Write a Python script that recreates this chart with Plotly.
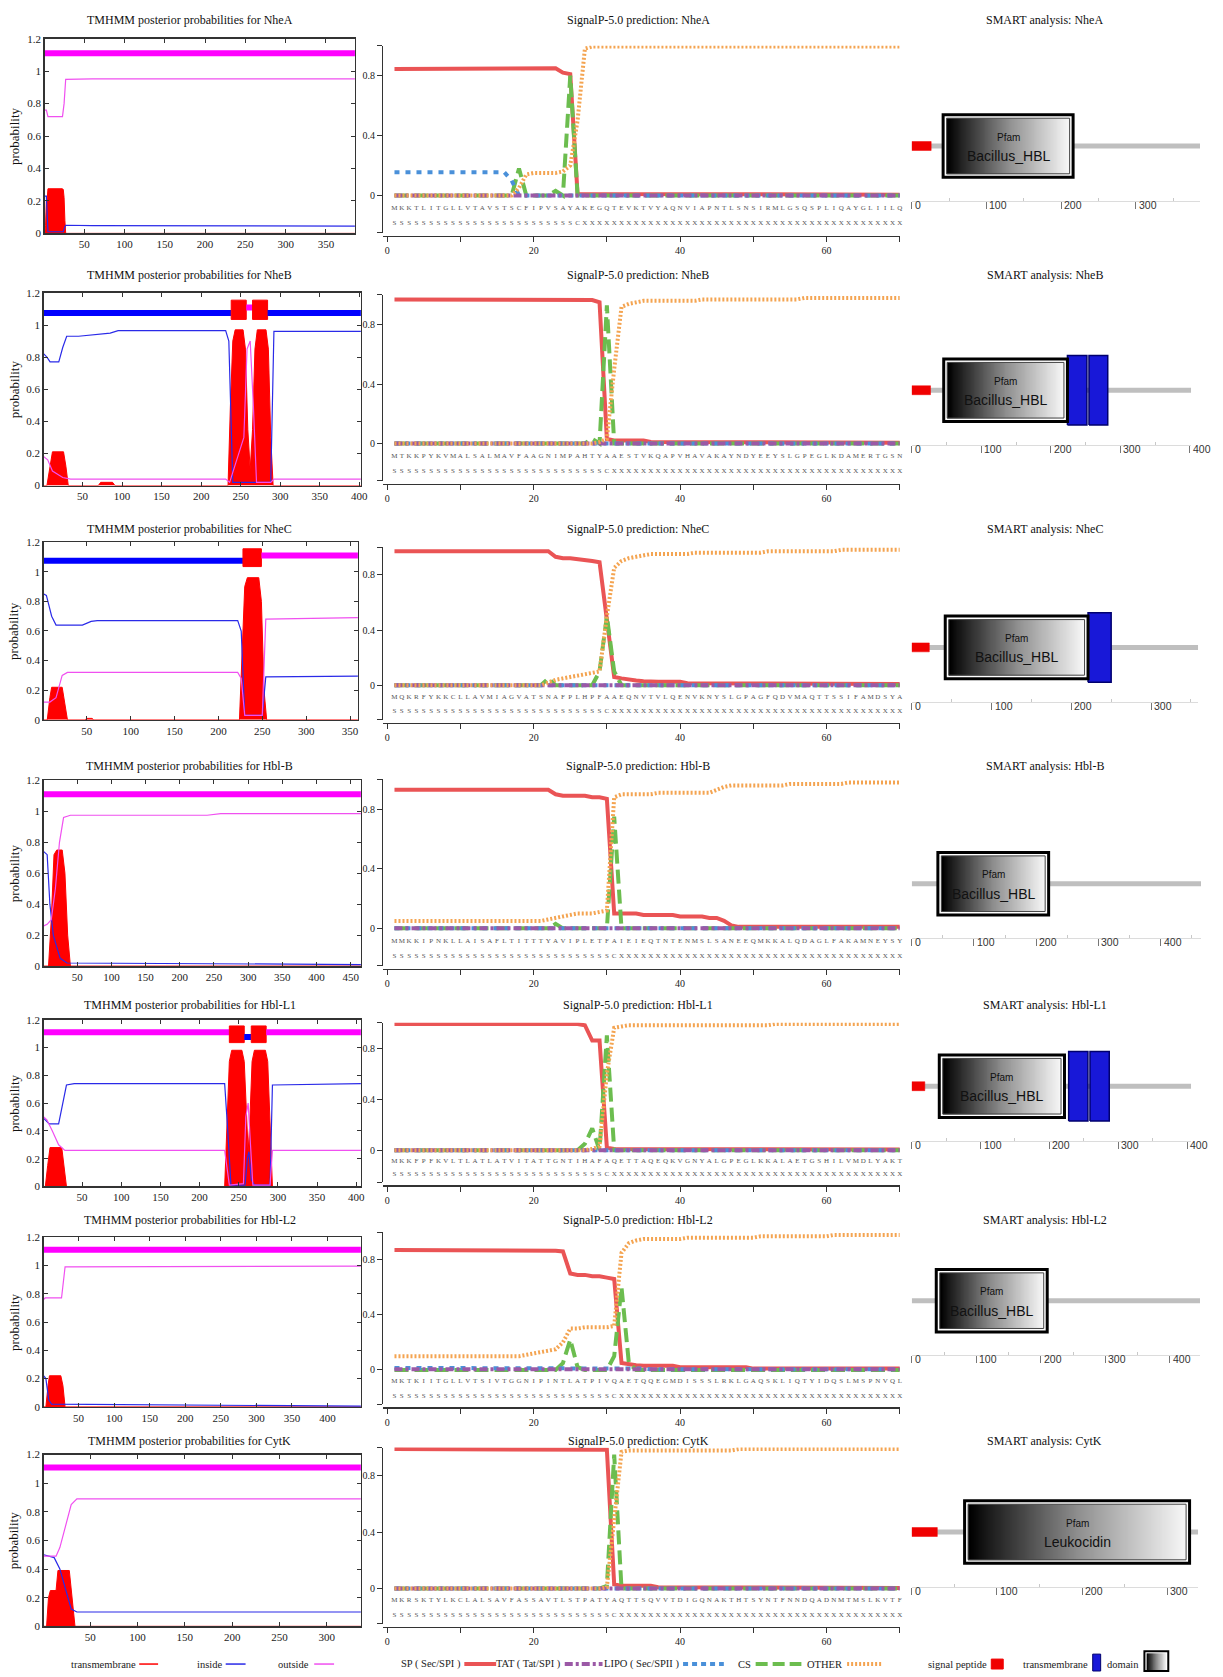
import numpy as np
import plotly.graph_objects as go

W, H = 1223, 1677
SERIF = "Liberation Serif"
SANS = "Liberation Sans"

# ======================= DATA =======================
proteins = ["NheA", "NheB", "NheC", "Hbl-B", "Hbl-L1", "Hbl-L2", "CytK"]
protein_length = [386, 402, 359, 465, 406, 447, 336]

tm_yticks = [0, 0.2, 0.4, 0.6, 0.8, 1.0, 1.2]
tm_yticktext = ["0", "0.2", "0.4", "0.6", "0.8", "1", "1.2"]
sp_xticks = [0, 10, 20, 30, 40, 50, 60, 70]
sp_xticktext = ["0", "", "20", "", "40", "", "60", ""]
sp_yticks = [-0.25, 0, 0.4, 0.8, 1.0]
sp_yticktext = ["", "0", "0.4", "0.8", ""]

# ---- TMHMM posterior probabilities (breakpoints) ----
nhea_tm_x = [1, 2, 3, 4, 5, 23, 24, 25, 26, 27, 386]
nhea_tm_y = [0, 0.05, 0.2, 0.21, 0.275, 0.275, 0.27, 0.22, 0.08, 0, 0]
nhea_in_x = [1, 3, 5, 24, 26, 27, 60, 386]
nhea_in_y = [0.23, 0.23, 0.01, 0.01, 0.04, 0.05, 0.048, 0.045]
nhea_out_x = [1, 3, 5, 23, 25, 26, 27, 60, 386]
nhea_out_y = [0.76, 0.76, 0.72, 0.72, 0.8, 0.93, 0.95, 0.953, 0.953]
nhea_topo = [(1, 386, "o")]

nheb_tm_x = [1, 5, 9, 12, 26, 29, 32, 70, 73, 88, 91, 234, 237, 240, 243, 253, 256, 259, 262, 265, 268, 271, 282, 285, 288, 291, 402]
nheb_tm_y = [0, 0, 0.12, 0.21, 0.21, 0.12, 0, 0, 0.02, 0.02, 0, 0, 0.5, 0.9, 0.97, 0.97, 0.85, 0.35, 0.1, 0.35, 0.85, 0.97, 0.97, 0.85, 0.3, 0, 0]
nheb_in_x = [1, 5, 9, 20, 25, 30, 45, 85, 95, 231, 235, 240, 288, 292, 402]
nheb_in_y = [0.82, 0.8, 0.77, 0.77, 0.86, 0.93, 0.93, 0.95, 0.965, 0.965, 0.9, 0.02, 0.02, 0.96, 0.96]
nheb_out_x = [1, 6, 12, 25, 35, 231, 236, 254, 258, 262, 266, 270, 288, 292, 402]
nheb_out_y = [0.18, 0.16, 0.09, 0.05, 0.04, 0.04, 0.02, 0.3, 0.85, 0.9, 0.5, 0.02, 0.02, 0.04, 0.04]
nheb_topo = [(1, 238, "i"), (238, 257, "TM"), (257, 265, "o"), (265, 284, "TM"), (284, 402, "i")]

nhec_tm_x = [1, 5, 8, 10, 22, 25, 28, 48, 50, 56, 58, 224, 227, 230, 233, 246, 249, 252, 255, 359]
nhec_tm_y = [0, 0, 0.15, 0.22, 0.22, 0.12, 0, 0, 0.01, 0.01, 0, 0, 0.5, 0.9, 0.96, 0.96, 0.8, 0.2, 0, 0]
nhec_in_x = [1, 4, 10, 15, 45, 55, 62, 222, 226, 230, 250, 254, 359]
nhec_in_y = [0.85, 0.84, 0.7, 0.64, 0.64, 0.665, 0.67, 0.67, 0.6, 0.03, 0.03, 0.29, 0.295]
nhec_out_x = [1, 8, 15, 22, 28, 222, 226, 230, 250, 254, 359]
nhec_out_y = [0.12, 0.12, 0.15, 0.3, 0.32, 0.32, 0.28, 0.03, 0.03, 0.68, 0.69]
nhec_topo = [(1, 228, "i"), (228, 249, "TM"), (249, 359, "o")]

hblb_tm_x = [1, 8, 12, 16, 20, 28, 32, 36, 40, 465]
hblb_tm_y = [0, 0, 0.3, 0.72, 0.75, 0.75, 0.6, 0.2, 0, 0]
hblb_in_x = [1, 6, 10, 15, 25, 35, 465]
hblb_in_y = [0.74, 0.72, 0.4, 0.2, 0.05, 0.02, 0.01]
hblb_out_x = [1, 6, 12, 18, 24, 30, 40, 240, 260, 465]
hblb_out_y = [0.26, 0.27, 0.3, 0.5, 0.8, 0.96, 0.975, 0.975, 0.985, 0.985]
hblb_topo = [(1, 465, "o")]

hbll1_tm_x = [1, 3, 6, 9, 24, 27, 30, 232, 235, 238, 241, 254, 257, 260, 262, 264, 267, 270, 284, 287, 290, 293, 406]
hbll1_tm_y = [0, 0, 0.15, 0.28, 0.28, 0.15, 0, 0, 0.5, 0.9, 0.98, 0.98, 0.9, 0.45, 0.25, 0.45, 0.9, 0.98, 0.98, 0.9, 0.4, 0, 0]
hbll1_in_x = [1, 4, 8, 20, 25, 30, 40, 232, 236, 240, 258, 261, 263, 266, 270, 290, 293, 406]
hbll1_in_y = [0.49, 0.47, 0.45, 0.45, 0.6, 0.73, 0.74, 0.74, 0.4, 0.01, 0.01, 0.2, 0.25, 0.05, 0.01, 0.01, 0.73, 0.74]
hbll1_out_x = [1, 5, 12, 20, 28, 232, 238, 256, 259, 262, 265, 268, 290, 293, 406]
hbll1_out_y = [0.5, 0.48, 0.4, 0.3, 0.26, 0.26, 0.01, 0.02, 0.5, 0.6, 0.3, 0.01, 0.01, 0.26, 0.26]
hbll1_topo = [(1, 238, "o"), (238, 257, "TM"), (257, 266, "i"), (266, 285, "TM"), (285, 406, "o")]

hbll2_tm_x = [1, 4, 7, 9, 25, 28, 31, 447]
hbll2_tm_y = [0, 0, 0.15, 0.22, 0.22, 0.15, 0, 0]
hbll2_in_x = [1, 4, 8, 12, 447]
hbll2_in_y = [0.22, 0.2, 0.05, 0.02, 0.005]
hbll2_out_x = [1, 3, 26, 29, 31, 447]
hbll2_out_y = [0.76, 0.77, 0.77, 0.9, 0.99, 0.995]
hbll2_topo = [(1, 447, "o")]

cytk_tm_x = [1, 4, 6, 8, 14, 16, 28, 31, 34, 336]
cytk_tm_y = [0, 0, 0.2, 0.25, 0.25, 0.39, 0.39, 0.2, 0, 0]
cytk_in_x = [1, 12, 18, 24, 30, 36, 336]
cytk_in_y = [0.5, 0.48, 0.4, 0.25, 0.12, 0.1, 0.1]
cytk_out_x = [1, 14, 18, 24, 30, 36, 336]
cytk_out_y = [0.49, 0.49, 0.55, 0.7, 0.85, 0.89, 0.89]
cytk_topo = [(1, 336, "o")]

# ---- SignalP-5.0 per-residue probabilities (positions 1..70) ----
nhea_seq = "MKKTLITGLLVTAVSTSCFIPVSAYAKEGQTEVKTVYAQNVIAPNTLSNSIRMLGSQSPLIQAYGLIILQ"
nhea_lab = "S" * 25 + "C" + "X" * 44
nhea_sp = [0.845] * 21 + [0.85, 0.85, 0.82, 0.81, 0.01] + [0.01] * 10 + [0.005] * 34
nhea_tat = [0.0] * 70
nhea_lipo = [0.155] * 16 + [0.1, 0.0] + [0.0] * 52
nhea_cs = [0.0] * 16 + [0.0, 0.18, 0.0] + [0.0] * 3 + [0.03, 0.0, 0.8, 0.0] + [0.0] * 44
nhea_other = [0.0] * 17 + [0.05, 0.14, 0.15, 0.15, 0.15, 0.15, 0.16, 0.2, 0.5, 0.98] + [0.995] * 43

nheb_seq = "MTKKPYKVMALSALMAVFAAGNIMPAHTYAAESTVKQAPVHAVAKAYNDYEEYSLGPEGLKDAMERTGSN"
nheb_lab = "S" * 29 + "C" + "X" * 40
nheb_sp = [0.97] * 27 + [0.965, 0.95, 0.03] + [0.02] * 5 + [0.01] * 10 + [0.005] * 25
nheb_tat = [0.0] * 70
nheb_lipo = [0.0] * 70
nheb_cs = [0.0] * 27 + [0.03, 0.0, 0.93, 0.0] + [0.0] * 39
nheb_other = [0.0] * 28 + [0.01, 0.03, 0.5, 0.92, 0.94, 0.95] + [0.96] * 8 + [0.97] * 14 + [0.98] * 14

nhec_seq = "MQKRFYKKCLLAVMIAGVATSNAFPLHPFAAEQNVTVLQENVKNYSLGPAGFQDVMAQTTSSIFAMDSYA"
nhec_lab = "S" * 29 + "C" + "X" * 40
nhec_sp = [0.97] * 22 + [0.93, 0.92, 0.92, 0.915, 0.91, 0.9, 0.89, 0.45, 0.06, 0.05, 0.04, 0.035, 0.03] + [0.025] * 5 + [0.015] * 10 + [0.01] * 20
nhec_tat = [0.0] * 70
nhec_lipo = [0.0] * 70
nhec_cs = [0.0] * 21 + [0.05, 0.0] + [0.0] * 5 + [0.1, 0.5, 0.1, 0.0] + [0.0] * 38
nhec_other = [0.0] * 21 + [0.02, 0.04, 0.05, 0.06, 0.07, 0.08, 0.09, 0.1, 0.5, 0.85, 0.9, 0.92, 0.93, 0.94] + [0.95] * 6 + [0.96] * 10 + [0.97] * 10 + [0.98] * 9

hblb_seq = "MMKKIPNKLLAISAFLTITTTYAVIPLETFAIEIEQTNTENMSLSANEEQMKKALQDAGLFAKAMNEYSY"
hblb_lab = "S" * 30 + "C" + "X" * 39
hblb_sp = [0.93] * 22 + [0.9, 0.89, 0.89, 0.89, 0.89, 0.88, 0.88, 0.87, 0.1] + [0.1] * 3 + [0.09] * 5 + [0.08] * 4 + [0.07] * 2 + [0.05, 0.02] + [0.01] * 23
hblb_tat = [0.0] * 70
hblb_lipo = [0.0] * 70
hblb_cs = [0.0] * 22 + [0.03, 0.0] + [0.0] * 6 + [0.75, 0.0] + [0.0] * 38
hblb_other = [0.05] * 20 + [0.05, 0.06, 0.07, 0.08, 0.09, 0.1, 0.1, 0.1, 0.11, 0.12, 0.88] + [0.9] * 5 + [0.91] * 8 + [0.93, 0.95] + [0.96] * 8 + [0.97] * 8 + [0.98] * 8

hbll1_seq = "MKKFPFKVLTLATLATVITATTGNTIHAFAQETTAQEQKVGNYALGPEGLKKALAETGSHILVMDLYAKT"
hbll1_lab = "S" * 29 + "C" + "X" * 40
hbll1_sp = [0.99] * 26 + [0.98, 0.86, 0.86, 0.02] + [0.01] * 10 + [0.005] * 30
hbll1_tat = [0.0] * 70
hbll1_lipo = [0.0] * 70
hbll1_cs = [0.0] * 26 + [0.05, 0.17, 0.0, 0.9, 0.0] + [0.0] * 39
hbll1_other = [0.0] * 27 + [0.01, 0.03, 0.6, 0.96, 0.97] + [0.98] * 20 + [0.99] * 18

hbll2_seq = "MKTKIITGLLVTSIVTGGNIPINTLATPIVQAETQQEGMDISSSLRKLGAQSKLIQTYIDQSLMSPNVQL"
hbll2_lab = "S" * 30 + "C" + "X" * 39
hbll2_sp = [0.87] * 22 + [0.865, 0.86, 0.7, 0.69, 0.69, 0.68, 0.68, 0.67, 0.66, 0.05, 0.04, 0.035] + [0.03] * 5 + [0.02] * 10 + [0.01] * 21
hbll2_tat = [0.005] * 70
hbll2_lipo = [0.015] * 30 + [0.01] * 5 + [0.005] * 35
hbll2_cs = [0.0] * 23 + [0.05, 0.22, 0.02] + [0.0] * 4 + [0.1, 0.6, 0.05] + [0.0] * 37
hbll2_other = [0.1] * 18 + [0.11, 0.12, 0.13, 0.14, 0.15, 0.2, 0.3, 0.3, 0.31, 0.31, 0.31, 0.31, 0.32, 0.85, 0.92, 0.94] + [0.95] * 6 + [0.96] * 10 + [0.97] * 10 + [0.98] * 10

cytk_seq = "MKRSKTYLKCLALSAVFASSAVTLSTPATYAQTTSQVVTDIGQNAKTHTSYNTFNNDQADNMTMSLKVTF"
cytk_lab = "S" * 30 + "C" + "X" * 39
cytk_sp = [0.99] * 29 + [0.985, 0.03] + [0.02] * 5 + [0.01] * 10 + [0.005] * 24
cytk_tat = [0.0] * 70
cytk_lipo = [0.0] * 70
cytk_cs = [0.0] * 29 + [0.02, 0.95, 0.0] + [0.0] * 38
cytk_other = [0.0] * 29 + [0.01, 0.5, 0.97] + [0.98] * 15 + [0.99] * 23

# ---- SMART architecture (residue coordinates) ----
smart_signal = [(0, 26), (0, 27), (0, 22), None, (0, 19), None, (0, 30)]
smart_domain = [(42, 216), (46, 224), (42, 221), (42, 220), (40, 222), (38, 210), (62, 326)]
smart_domain_name = ["Bacillus_HBL"] * 6 + ["Leukocidin"]
smart_tm = [[], [(224, 252), (255, 282)], [(221, 250)], [], [(228, 256), (259, 287)], [], []]

tmhmm_sets = [
    (nhea_tm_x, nhea_tm_y, nhea_in_x, nhea_in_y, nhea_out_x, nhea_out_y, nhea_topo),
    (nheb_tm_x, nheb_tm_y, nheb_in_x, nheb_in_y, nheb_out_x, nheb_out_y, nheb_topo),
    (nhec_tm_x, nhec_tm_y, nhec_in_x, nhec_in_y, nhec_out_x, nhec_out_y, nhec_topo),
    (hblb_tm_x, hblb_tm_y, hblb_in_x, hblb_in_y, hblb_out_x, hblb_out_y, hblb_topo),
    (hbll1_tm_x, hbll1_tm_y, hbll1_in_x, hbll1_in_y, hbll1_out_x, hbll1_out_y, hbll1_topo),
    (hbll2_tm_x, hbll2_tm_y, hbll2_in_x, hbll2_in_y, hbll2_out_x, hbll2_out_y, hbll2_topo),
    (cytk_tm_x, cytk_tm_y, cytk_in_x, cytk_in_y, cytk_out_x, cytk_out_y, cytk_topo),
]
signalp_sets = [
    (nhea_seq, nhea_lab, nhea_sp, nhea_tat, nhea_lipo, nhea_cs, nhea_other),
    (nheb_seq, nheb_lab, nheb_sp, nheb_tat, nheb_lipo, nheb_cs, nheb_other),
    (nhec_seq, nhec_lab, nhec_sp, nhec_tat, nhec_lipo, nhec_cs, nhec_other),
    (hblb_seq, hblb_lab, hblb_sp, hblb_tat, hblb_lipo, hblb_cs, hblb_other),
    (hbll1_seq, hbll1_lab, hbll1_sp, hbll1_tat, hbll1_lipo, hbll1_cs, hbll1_other),
    (hbll2_seq, hbll2_lab, hbll2_sp, hbll2_tat, hbll2_lipo, hbll2_cs, hbll2_other),
    (cytk_seq, cytk_lab, cytk_sp, cytk_tat, cytk_lipo, cytk_cs, cytk_other),
]

# ======================= LAYOUT GEOMETRY (page pixels) =======================
TM_FRAME = [(33, 229, 45, 357), (289, 483, 44, 363), (540, 719, 44, 360), (780, 967, 44, 363),
            (1021, 1189, 44, 363), (1240, 1411, 44, 363), (1459, 1632, 44, 363)]
# (pixel of y=1.0, pixel of y=-0.25, pixel of x-axis line)
SP_GEOM = [(40, 228.5, 231.5), (291, 478, 481), (545, 719, 722), (779, 966.5, 969.5),
           (1024, 1184.5, 1187.5), (1235, 1408.5, 1411.5), (1452, 1629.5, 1632.5)]
SP_X0, SP_X1 = 385.7, 905
SMART_Y = [141, 387, 646, 884, 1088, 1304, 1537]
SMART_X1 = [1207, 1198, 1205, 1208, 1198, 1207, 1205]
TITLE_Y = [14, 271, 527, 765, 1006, 1223, 1445]
SMART_X0 = 917

C_RED = "#ff0000"
C_IN = "#2a2ae8"
C_OUT = "#f050f0"
SP_COL = "#ea5455"
TAT_COL = "#9b59a6"
LIPO_COL = "#4a90d9"
CS_COL = "#6cbd4f"
OTHER_COL = "#f4a451"
GRAD = [[0, "#000000"], [0.06, "#141414"], [0.5, "#8f8f8f"], [1, "#f7f7f7"]]


def fx(v):
    return min(1.0, max(0.0, v / W))


def fy(v):
    return min(1.0, max(0.0, 1 - v / H))


def keys(i):
    s = "" if i == 1 else str(i)
    return "xaxis" + s, "yaxis" + s, "x" + s, "y" + s


fig = go.Figure()
lay = {}
ann = []
shp = []

for r in range(7):
    name = proteins[r]
    L = protein_length[r]

    # ---------------- TMHMM ----------------
    xk, yk, xr, yr = keys(3 * r + 1)
    top, bot, left, right = TM_FRAME[r]
    tfont = dict(family=SERIF, size=11, color="#222")
    lay[xk] = dict(domain=[fx(left), fx(right)], range=[1, L], anchor=yr,
                   tickvals=list(range(50, L + 1, 50)), ticks="inside", ticklen=4,
                   tickcolor="#333", mirror="ticks", showline=True, linecolor="#333",
                   linewidth=1.5, showgrid=False, zeroline=False, tickfont=tfont)
    lay[yk] = dict(domain=[fy(bot), fy(top)], range=[0, 1.2], anchor=xr,
                   tickvals=tm_yticks, ticktext=tm_yticktext, ticks="inside", ticklen=4,
                   tickcolor="#333", mirror="ticks", showline=True, linecolor="#333",
                   linewidth=1.5, showgrid=False, zeroline=False, tickfont=tfont)
    tmx, tmy, inx, iny, outx, outy, topo = tmhmm_sets[r]
    for (s, e, kind) in topo:
        if kind == "TM":
            fig.add_trace(go.Scatter(x=[s, e, e, s, s], y=[1.035, 1.035, 1.155, 1.155, 1.035],
                                     fill="toself", fillcolor=C_RED, mode="lines",
                                     line=dict(color=C_RED, width=1), xaxis=xr, yaxis=yr,
                                     showlegend=False, hoverinfo="skip"))
        else:
            yv = 1.11 if kind == "o" else 1.075
            col = "#ff00ff" if kind == "o" else "#0000ff"
            fig.add_trace(go.Scatter(x=[s, e], y=[yv, yv], mode="lines",
                                     line=dict(color=col, width=6), xaxis=xr, yaxis=yr,
                                     showlegend=False, hoverinfo="skip"))
    fig.add_trace(go.Scatter(x=tmx, y=tmy, mode="lines", fill="tozeroy", fillcolor=C_RED,
                             line=dict(color=C_RED, width=1), xaxis=xr, yaxis=yr,
                             showlegend=False, hoverinfo="skip"))
    fig.add_trace(go.Scatter(x=inx, y=iny, mode="lines", line=dict(color=C_IN, width=1.2),
                             xaxis=xr, yaxis=yr, showlegend=False, hoverinfo="skip"))
    fig.add_trace(go.Scatter(x=outx, y=outy, mode="lines", line=dict(color=C_OUT, width=1.2),
                             xaxis=xr, yaxis=yr, showlegend=False, hoverinfo="skip"))
    ann.append(dict(x=fx(191), y=fy(TITLE_Y[r]), xref="paper", yref="paper",
                    text="TMHMM posterior probabilities for " + name, showarrow=False,
                    xanchor="center", yanchor="middle", font=dict(family=SERIF, size=12, color="#111")))
    ann.append(dict(x=fx(14), y=fy((top + bot) / 2), xref="paper", yref="paper",
                    text="probability", textangle=-90, showarrow=False,
                    xanchor="center", yanchor="middle", font=dict(family=SERIF, size=13, color="#111")))

    # ---------------- SignalP ----------------
    xk, yk, xr, yr = keys(3 * r + 2)
    t10, b02, xline = SP_GEOM[r]
    sfont = dict(family=SERIF, size=10, color="#222")
    lay[xk] = dict(domain=[fx(SP_X0), fx(SP_X1)], range=[-0.5, 70], anchor="free",
                   position=fy(xline), tickvals=sp_xticks, ticktext=sp_xticktext,
                   ticks="outside", ticklen=5, tickcolor="#333", showline=True,
                   linecolor="#333", linewidth=1.5, showgrid=False, zeroline=False, tickfont=sfont)
    lay[yk] = dict(domain=[fy(b02), fy(t10)], range=[-0.25, 1.0], anchor=xr,
                   tickvals=sp_yticks, ticktext=sp_yticktext, ticks="outside", ticklen=5,
                   tickcolor="#333", showline=True, linecolor="#333", linewidth=1.5,
                   showgrid=False, zeroline=False, tickfont=sfont)
    seq, lab, sp, tat, lipo, cs, other = signalp_sets[r]
    pos = list(range(1, 71))
    fig.add_trace(go.Scatter(x=pos, y=sp, mode="lines", line=dict(color=SP_COL, width=4),
                             xaxis=xr, yaxis=yr, showlegend=False, hoverinfo="skip"))
    fig.add_trace(go.Scatter(x=pos, y=cs, mode="lines",
                             line=dict(color=CS_COL, width=4, dash="14px,6px"),
                             xaxis=xr, yaxis=yr, showlegend=False, hoverinfo="skip"))
    fig.add_trace(go.Scatter(x=pos, y=lipo, mode="lines",
                             line=dict(color=LIPO_COL, width=4, dash="5px,6px"),
                             xaxis=xr, yaxis=yr, showlegend=False, hoverinfo="skip"))
    fig.add_trace(go.Scatter(x=pos, y=tat, mode="lines",
                             line=dict(color=TAT_COL, width=4, dash="8px,3px,3px,3px"),
                             xaxis=xr, yaxis=yr, showlegend=False, hoverinfo="skip"))
    fig.add_trace(go.Scatter(x=pos, y=other, mode="lines",
                             line=dict(color=OTHER_COL, width=4, dash="2px,2px"),
                             xaxis=xr, yaxis=yr, showlegend=False, hoverinfo="skip"))
    fig.add_trace(go.Scatter(x=pos, y=[-0.084] * 70, mode="text", text=list(seq),
                             textfont=dict(family=SERIF, size=7, color="#555"), cliponaxis=False,
                             xaxis=xr, yaxis=yr, showlegend=False, hoverinfo="skip"))
    fig.add_trace(go.Scatter(x=pos, y=[-0.188] * 70, mode="text", text=list(lab),
                             textfont=dict(family=SERIF, size=7, color="#555"), cliponaxis=False,
                             xaxis=xr, yaxis=yr, showlegend=False, hoverinfo="skip"))
    ann.append(dict(x=fx(642), y=fy(TITLE_Y[r]), xref="paper", yref="paper",
                    text="SignalP-5.0 prediction: " + name, showarrow=False,
                    xanchor="center", yanchor="middle", font=dict(family=SERIF, size=12, color="#111")))

    # ---------------- SMART ----------------
    xk, yk, xr, yr = keys(3 * r + 3)
    g = SMART_Y[r]
    x1 = SMART_X1[r]
    lay[xk] = dict(domain=[fx(SMART_X0), fx(x1)], range=[0, L], anchor=yr,
                   tickvals=list(range(0, L + 1, 100)), ticks="outside", ticklen=7,
                   tickcolor="#777", showticklabels=False, showline=True, linecolor="#dcdcdc",
                   linewidth=1, showgrid=False, zeroline=False,
                   minor=dict(tickvals=list(range(50, L + 1, 100)), ticks="inside", ticklen=3,
                              tickcolor="#c8c8c8"))
    lay[yk] = dict(domain=[fy(g + 55), fy(g - 62)], range=[-55, 62], anchor=xr, visible=False)
    k = (x1 - SMART_X0) / L
    ds, de = smart_domain[r]
    for (a, b) in [(0, ds), (de, L)]:
        fig.add_trace(go.Scatter(x=[a, b], y=[0, 0], mode="lines", line=dict(color="#bfbfbf", width=5),
                                 xaxis=xr, yaxis=yr, showlegend=False, hoverinfo="skip"))
    if smart_signal[r] is not None:
        s, e = smart_signal[r]
        fig.add_trace(go.Scatter(x=[s, e, e, s, s], y=[-4.5, -4.5, 4.5, 4.5, -4.5], fill="toself",
                                 fillcolor="#f00000", mode="lines", line=dict(color="#f00000", width=0.5),
                                 xaxis=xr, yaxis=yr, showlegend=False, hoverinfo="skip"))
    d_in = 3.5 / k
    ncol = 64
    edges = np.linspace(ds + d_in, de - d_in, ncol + 1)
    fig.add_trace(go.Heatmap(x=edges, y=[-28, 28], z=[list(np.linspace(0, 1, ncol))],
                             colorscale=GRAD, showscale=False, zsmooth="best", hoverinfo="skip",
                             xaxis=xr, yaxis=yr))
    shp.append(dict(type="rect", xref=xr, yref=yr, x0=ds, x1=de, y0=-31.5, y1=31.5,
                    line=dict(color="#000000", width=3), fillcolor="rgba(0,0,0,0)"))
    shp.append(dict(type="rect", xref=xr, yref=yr, x0=ds + d_in, x1=de - d_in, y0=-28, y1=28,
                    line=dict(color="#444444", width=1), fillcolor="rgba(0,0,0,0)"))
    for (s, e) in smart_tm[r]:
        fig.add_trace(go.Scatter(x=[s, e, e, s, s], y=[-35, -35, 35, 35, -35], fill="toself",
                                 fillcolor="#1818d8", mode="lines", line=dict(color="#00006e", width=1.5),
                                 xaxis=xr, yaxis=yr, showlegend=False, hoverinfo="skip"))
    ann.append(dict(x=(ds + de) / 2, y=9, xref=xr, yref=yr, text="Pfam", showarrow=False,
                    xanchor="center", yanchor="middle", font=dict(family=SANS, size=10, color="#111")))
    ann.append(dict(x=(ds + de) / 2, y=-10, xref=xr, yref=yr, text=smart_domain_name[r], showarrow=False,
                    xanchor="center", yanchor="middle", font=dict(family=SANS, size=14, color="#111")))
    for t in range(0, L + 1, 100):
        ann.append(dict(x=t, y=fy(g + 59), xref=xr, yref="paper", text=str(t), showarrow=False,
                        xanchor="left", yanchor="middle", xshift=1,
                        font=dict(family=SANS, size=10.5, color="#333")))
    ann.append(dict(x=fx(1051), y=fy(TITLE_Y[r]), xref="paper", yref="paper",
                    text="SMART analysis: " + name, showarrow=False,
                    xanchor="center", yanchor="middle", font=dict(family=SERIF, size=12, color="#111")))

# ======================= LEGEND (bottom strip) =======================
LY = 1670
lfont = dict(family=SERIF, size=10.5, color="#222")
legend_items = [
    ("transmembrane", 139, dict(type="line", x0=140, x1=159, color=C_RED, width=1.5, dash="solid")),
    ("inside", 225, dict(type="line", x0=227, x1=247, color=C_IN, width=1.5, dash="solid")),
    ("outside", 313, dict(type="line", x0=316, x1=336, color=C_OUT, width=1.5, dash="solid")),
    ("SP ( Sec/SPI )", 466, dict(type="line", x0=467, x1=499, color=SP_COL, width=4, dash="solid")),
    ("TAT ( Tat/SPI )", 566, dict(type="line", x0=568, x1=606, color=TAT_COL, width=4, dash="8px,3px,3px,3px")),
    ("LIPO ( Sec/SPII )", 685, dict(type="line", x0=687, x1=728, color=LIPO_COL, width=4, dash="5px,4px")),
    ("CS", 757, dict(type="line", x0=760, x1=806, color=CS_COL, width=4, dash="12px,5px")),
    ("OTHER", 849, dict(type="line", x0=852, x1=888, color=OTHER_COL, width=4, dash="2px,2px")),
    ("signal peptide", 995, dict(type="rect", x0=997, x1=1009, y0=1665, y1=1675, color="#f00000")),
    ("transmembrane", 1096, dict(type="rect", x0=1099, x1=1107, y0=1660, y1=1681, color="#1818d8")),
    ("domain", 1148, None),
]
for text, xend, mark in legend_items:
    ann.append(dict(x=fx(xend), y=fy(LY), xref="paper", yref="paper", text=text, showarrow=False,
                    xanchor="right", yanchor="middle", font=lfont))
    if mark is None:
        continue
    if mark["type"] == "line":
        shp.append(dict(type="line", xref="paper", yref="paper", x0=fx(mark["x0"]), x1=fx(mark["x1"]),
                        y0=fy(LY), y1=fy(LY), line=dict(color=mark["color"], width=mark["width"], dash=mark["dash"])))
    else:
        shp.append(dict(type="rect", xref="paper", yref="paper", x0=fx(mark["x0"]), x1=fx(mark["x1"]),
                        y0=fy(mark["y1"]), y1=fy(mark["y0"]), fillcolor=mark["color"],
                        line=dict(color="#00006e" if mark["color"] == "#1818d8" else mark["color"], width=1)))

# gradient swatch for "domain"
xk, yk, xr, yr = keys(22)
lay[xk] = dict(domain=[fx(1153), fx(1173)], range=[0, 1], anchor=yr, visible=False)
lay[yk] = dict(domain=[fy(1684), fy(1659)], range=[0, 1], anchor=xr, visible=False)
fig.add_trace(go.Heatmap(x=np.linspace(0, 1, 33), y=[0, 1], z=[list(np.linspace(0, 1, 32))],
                         colorscale=GRAD, showscale=False, zsmooth="best", hoverinfo="skip",
                         xaxis=xr, yaxis=yr))
shp.append(dict(type="rect", xref="paper", yref="paper", x0=fx(1151), x1=fx(1175),
                y0=fy(1686), y1=fy(1657), line=dict(color="#000", width=2), fillcolor="rgba(0,0,0,0)"))

fig.update_layout(width=W, height=H, margin=dict(l=0, r=0, t=0, b=0), autosize=False,
                  paper_bgcolor="white", plot_bgcolor="white", showlegend=False,
                  annotations=ann, shapes=shp, **lay)
fig.write_html("out.html", config={"displayModeBar": False, "staticPlot": True},
               post_script="document.body.style.margin='0';document.body.style.overflow='hidden';")
